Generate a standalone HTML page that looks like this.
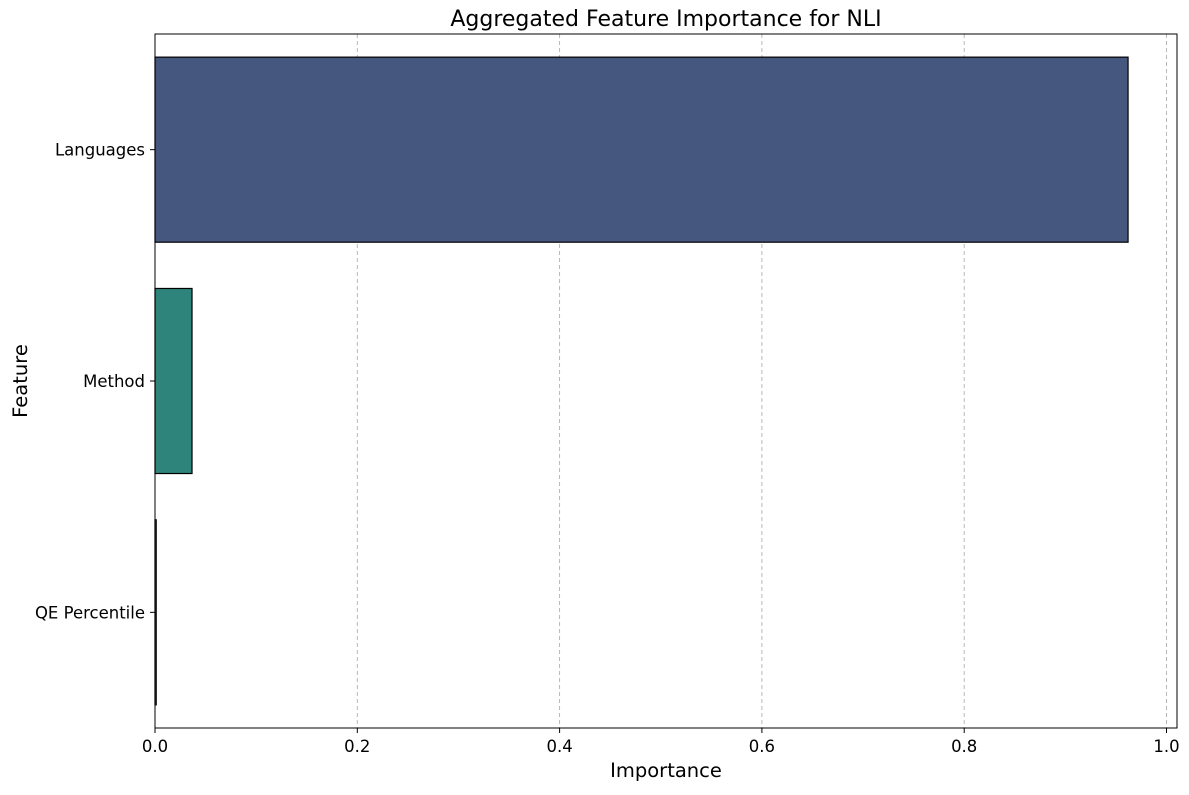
<!DOCTYPE html>
<html><head><meta charset="utf-8"><style>
body{margin:0;background:#fff;font-family:"Liberation Sans","DejaVu Sans",sans-serif;}
svg text{font-family:"DejaVu Sans","Liberation Sans",sans-serif;}
</style></head><body>
<svg id="chart" width="1189" height="790" xmlns="http://www.w3.org/2000/svg">
<text x="666" y="26" text-anchor="middle" font-size="22">Aggregated Feature Importance for NLI</text>
<g id="grid"></g><g id="bars"></g><g id="axes"></g>
<text x="666" y="777" text-anchor="middle" font-size="19.5">Importance</text>
<text transform="translate(27,381) rotate(-90)" text-anchor="middle" font-size="19.5">Feature</text>
</svg>
<script>
const categories=["Languages","Method","QE Percentile"];
const values=[0.962,0.0366,0.0012];
const colors=["#46577f","#2e837b","#b0dc3c"];
const xTicks=[0,0.2,0.4,0.6,0.8,1.0];
const xTickLabels=["0.0","0.2","0.4","0.6","0.8","1.0"];
const L=155,R=1177,T=34,B=728;
const x=v=>L+v*1011.5;
const band=(B-T)/categories.length;
const yc=i=>T+band*(i+0.5);
const NS="http://www.w3.org/2000/svg";
function mk(p,t,a){const e=document.createElementNS(NS,t);for(const k in a)e.setAttribute(k,a[k]);p.appendChild(e);return e;}
const grid=document.getElementById('grid'),bars=document.getElementById('bars'),axes=document.getElementById('axes');
xTicks.forEach((t,i)=>{
 const g=mk(grid,'line',{x1:x(t),x2:x(t),y1:T,y2:B,stroke:'#b0b0b0','stroke-dasharray':'4,3','stroke-width':0.9});
 
 
 const tk=mk(axes,'line',{x1:x(t),x2:x(t),y1:B,y2:B+5,stroke:'#000'});
 
 
 const tl=mk(axes,'text',{x:x(t),y:B+24,'text-anchor':'middle','font-size':16.5});
 tl.textContent=xTickLabels[i];
 
 
});
categories.forEach((c,i)=>{
 const h=band*0.8;
 const r=mk(bars,'rect',{x:L,y:yc(i)-h/2,width:Math.max(x(values[i])-L,0.5),height:h,fill:colors[i],stroke:'#000','stroke-width':1.2});
 
 
 const tk=mk(axes,'line',{x1:L-5,x2:L,y1:yc(i),y2:yc(i),stroke:'#000'});
 
 
 const tl=mk(axes,'text',{x:L-10,y:yc(i)+6,'text-anchor':'end','font-size':16.5});
 tl.textContent=c;
 
 
});
const fr=mk(axes,'rect',{x:L,y:T,width:R-L,height:B-T,fill:'none',stroke:'#000','stroke-width':1});


</script>
</body></html>
